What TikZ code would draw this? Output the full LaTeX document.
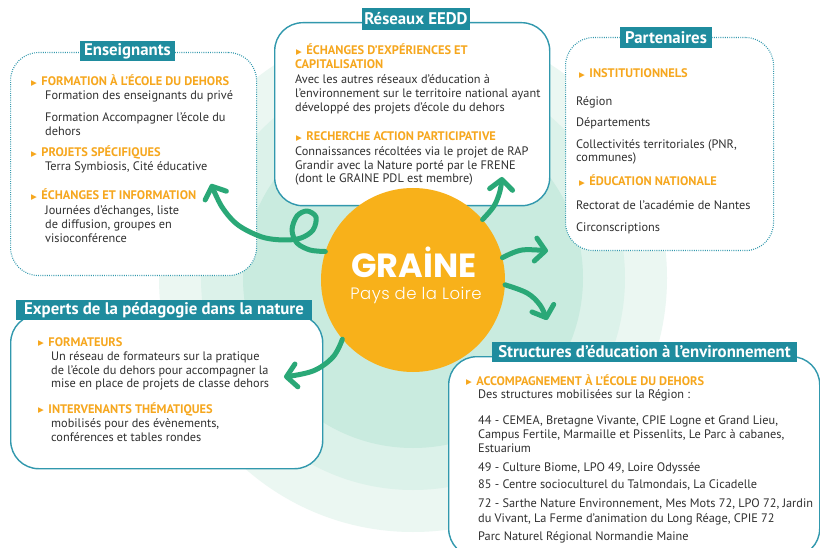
\documentclass[tikz,border=0pt]{standalone}
\usepackage{fontspec}
\setmainfont{PT Sans}
\newfontfamily\symf{DejaVu Sans}
\newfontfamily\logof{Poppins}
\newfontfamily\logol{Poppins Light}
\usetikzlibrary{arrows.meta}
\definecolor{ringA}{HTML}{EBF7F2}
\definecolor{ringB}{HTML}{DCF2EA}
\definecolor{ringC}{HTML}{C9EBDF}
\definecolor{tabc}{HTML}{1F8C9E}
\definecolor{edgec}{HTML}{3198AD}
\definecolor{headc}{HTML}{F6A71E}
\definecolor{circc}{HTML}{F8B11A}
\definecolor{arrc}{HTML}{2AA877}
\definecolor{txtc}{HTML}{303030}
\newcommand\bodyfs{\fontsize{12.3}{14}\selectfont}
\newcommand\headfs{\fontsize{12.4}{14}\selectfont}
\newcommand\titlefs{\fontsize{16.8}{18}\selectfont}
\newcommand\bul{{\symf\fontsize{7.5}{7.5}\selectfont\raisebox{0.8pt}{▶}}\hspace{4.5pt}}
\tikzset{
  boxs/.style={draw=edgec, line width=1.4pt, fill=white, rounded corners=28pt, anchor=north west, inner sep=0pt},
  dotboxs/.style={boxs, line width=1.1pt, dash pattern=on 0.9pt off 1.3pt},
  tabs/.style={fill=tabc, text=white, font=\titlefs\bfseries, inner sep=0pt, anchor=center},
  headt/.style={anchor=base west, text=headc, font=\headfs\bfseries, inner sep=0pt},
  bodyt/.style={anchor=base west, text=txtc, font=\bodyfs, inner sep=0pt},
  arr/.style={line width=5pt, draw=arrc, line cap=round, line join=round,
    -{Straight Barb[round,length=10pt,width=23pt]}}
}
\begin{document}
\begin{tikzpicture}[x=1pt,y=-1pt]
\useasboundingbox (0,0) rectangle (820,548);
\fill[white] (0,0) rectangle (820,548);
% background rings
\fill[ringA] (413,278) circle[radius=254pt];
\fill[ringB] (413,278) circle[radius=212pt];
\fill[ringC] (413,278) circle[radius=170pt];

% boxes
\node[dotboxs, minimum width=246pt, minimum height=223pt] (ensbox) at (10,52) {};
\node[boxs, minimum width=275pt, minimum height=183pt] (resbox) at (274,22) {};
\node[dotboxs, minimum width=208pt, minimum height=213pt] (parbox) at (565,37) {};
\node[boxs, minimum width=312pt, minimum height=154pt] (expbox) at (10,314) {};
\node[boxs, minimum width=371pt, minimum height=200pt] (strbox) at (448,356) {};

% tabs
\node[tabs, minimum width=95pt, minimum height=20pt] (enstab) at (127.5,51.5) {Enseignants};
\node[tabs, minimum width=108pt, minimum height=22pt] (restab) at (416,19) {Réseaux EEDD};
\node[tabs, minimum width=92pt, minimum height=21pt] (partab) at (666,37.5) {Partenaires};
\node[tabs, minimum width=296pt, minimum height=20pt] (exptab) at (164,310) {Experts de la pédagogie dans la nature};
\node[tabs, minimum width=305pt, minimum height=20pt] (strtab) at (644.5,352) {Structures d’éducation à l’environnement};

% Enseignants
\node[headt] (e1) at (31,86) {\bul FORMATION À L’ÉCOLE DU DEHORS};
\node[bodyt] (e2) at (45,100) {Formation des enseignants du privé};
\node[bodyt] (e3) at (45,122) {Formation Accompagner l’école du};
\node[bodyt] (e4) at (45,136) {dehors};
\node[headt] (e5) at (31,157) {\bul PROJETS SPÉCIFIQUES};
\node[bodyt] (e6) at (45,171) {Terra Symbiosis, Cité éducative};
\node[headt] (e7) at (31,200) {\bul ÉCHANGES ET INFORMATION};
\node[bodyt] (e8) at (45,215) {Journées d’échanges, liste};
\node[bodyt] (e9) at (45,229) {de diffusion, groupes en};
\node[bodyt] (e10) at (45,243) {visioconférence};

% Reseaux
\node[headt] (r1) at (296,55) {\bul ÉCHANGES D’EXPÉRIENCES ET};
\node[headt] (r2) at (295,69) {CAPITALISATION};
\node[bodyt] (r3) at (295,84) {Avec les autres réseaux d’éducation à};
\node[bodyt] (r4) at (295,98) {l’environnement sur le territoire national ayant};
\node[bodyt] (r5) at (295,112) {développé des projets d’école du dehors};
\node[headt] (r6) at (296,141) {\bul RECHERCHE ACTION PARTICIPATIVE};
\node[bodyt] (r7) at (295,156) {Connaissances récoltées via le projet de RAP};
\node[bodyt] (r8) at (295,170) {Grandir avec la Nature porté par le FRENE};
\node[bodyt] (r9) at (295,183) {(dont le GRAINE PDL est membre)};

% Partenaires
\node[headt] (p1) at (579,78) {\bul INSTITUTIONNELS};
\node[bodyt] (p2) at (576,106) {Région};
\node[bodyt] (p3) at (576,127) {Départements};
\node[bodyt] (p4) at (576,149) {Collectivités territoriales (PNR,};
\node[bodyt] (p5) at (576,162) {communes)};
\node[headt] (p6) at (579,186) {\bul ÉDUCATION NATIONALE};
\node[bodyt] (p7) at (576,210) {Rectorat de l’académie de Nantes};
\node[bodyt] (p8) at (576,232) {Circonscriptions};

% Experts
\node[headt] (x1) at (38,346) {\bul FORMATEURS};
\node[bodyt] (x2) at (51,360) {Un réseau de formateurs sur la pratique};
\node[bodyt] (x3) at (51,374) {de l’école du dehors pour accompagner la};
\node[bodyt] (x4) at (51,388) {mise en place de projets de classe dehors};
\node[headt] (x5) at (38,413) {\bul INTERVENANTS THÉMATIQUES};
\node[bodyt] (x6) at (51,427) {mobilisés pour des évènements,};
\node[bodyt] (x7) at (51,441) {conférences et tables rondes};

% Structures
\node[headt] (s1) at (466,385) {\bul ACCOMPAGNEMENT À L’ÉCOLE DU DEHORS};
\node[bodyt] (s2) at (478,398) {Des structures mobilisées sur la Région :};
\node[bodyt] (s3) at (478,424) {44 - CEMEA, Bretagne Vivante, CPIE Logne et Grand Lieu,};
\node[bodyt] (s4) at (478,438) {Campus Fertile, Marmaille et Pissenlits, Le Parc à cabanes,};
\node[bodyt] (s5) at (478,452) {Estuarium};
\node[bodyt] (s6) at (478,471) {49 - Culture Biome, LPO 49, Loire Odyssée};
\node[bodyt] (s7) at (478,488) {85 - Centre socioculturel du Talmondais, La Cicadelle};
\node[bodyt] (s8) at (478,507) {72 - Sarthe Nature Environnement, Mes Mots 72, LPO 72, Jardin};
\node[bodyt] (s9) at (478,522) {du Vivant, La Ferme d’animation du Long Réage, CPIE 72};
\node[bodyt] (s10) at (478,540) {Parc Naturel Régional Normandie Maine};

% centre
\node[circle, fill=circc, minimum size=184pt, inner sep=0pt] (g) at (413,280) {};
\node[anchor=base, text=white, inner sep=0pt, font=\logof\bfseries\fontsize{33.5}{34}\selectfont] (gt) at (414,278) {GRAİNE};
\node[anchor=base, text=white, inner sep=0pt, font=\logol\fontsize{16.5}{17}\selectfont\addfontfeatures{LetterSpace=3}] (gs) at (416,300) {Pays de la Loire};

% connectors
\coordinate (tA) at (211,184);
\coordinate (tB) at (502,177);
\coordinate (tC) at (548,251);
\coordinate (tD) at (547,320);
\coordinate (tE) at (284,377);
\draw[arr] plot[smooth, tension=0.55] coordinates {(g.162) (310,250) (297,243) (292,230) (297,216) (307,211) (316,217) (313,230) (301,238) (284,240) (262,237) (238,225) (222,207) (tA)};
\draw[arr] plot[smooth, tension=0.6] coordinates {(g.41) (494,206) (500,191) (tB)};
\draw[arr] plot[smooth, tension=0.6] coordinates {(g.14) (522,250) (tC)};
\draw[arr] plot[smooth, tension=0.6] coordinates {(g.-3) (527,293) (540,305) (tD)};
\draw[arr] plot[smooth, tension=0.6] coordinates {(g.220) (333,357) (313,371) (tE)};
\end{tikzpicture}
\end{document}
